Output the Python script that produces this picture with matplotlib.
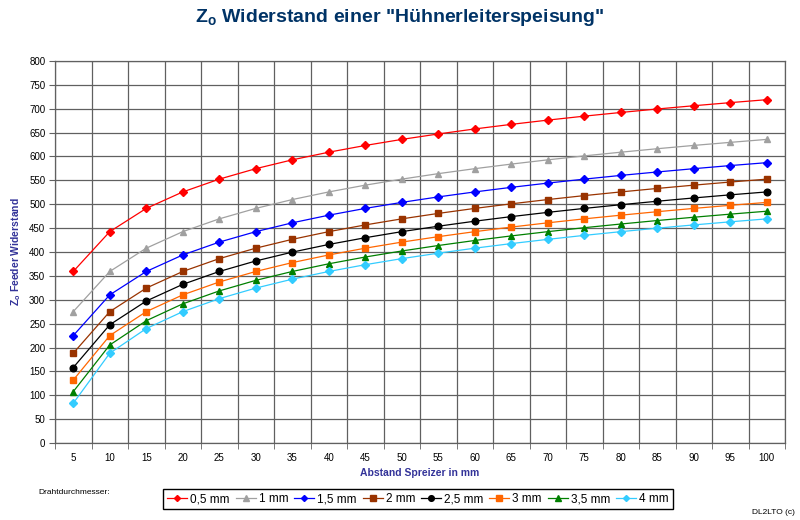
import matplotlib

matplotlib.use("Agg")

import matplotlib.pyplot as plt
import numpy as np

plt.rcParams["font.family"] = ["Liberation Sans", "DejaVu Sans"]

# Abstand der Leiter (Spreizer) in mm
abstand = [5, 10, 15, 20, 25, 30, 35, 40, 45, 50,
           55, 60, 65, 70, 75, 80, 85, 90, 95, 100]

# Z0 in Ohm je Drahtdurchmesser
z_05 = [359.2, 442.6, 491.3, 525.8, 552.6, 574.5, 593.0, 609.0, 623.1, 635.8,
        647.2, 657.7, 667.3, 676.2, 684.5, 692.2, 699.5, 706.3, 712.8, 719.0]
z_10 = [275.1, 359.2, 408.0, 442.6, 469.4, 491.3, 509.8, 525.8, 540.0, 552.6,
        564.1, 574.5, 584.1, 593.0, 601.3, 609.0, 616.3, 623.2, 629.6, 635.8]
z_15 = [224.9, 310.2, 359.2, 393.8, 420.7, 442.6, 461.1, 477.1, 491.3, 503.9,
        515.4, 525.8, 535.4, 544.3, 552.6, 560.4, 567.6, 574.5, 581.0, 587.1]
z_20 = [188.0, 275.1, 324.4, 359.2, 386.1, 408.0, 426.5, 442.6, 456.7, 469.4,
        480.8, 491.3, 500.9, 509.8, 518.1, 525.8, 533.1, 540.0, 546.5, 552.6]
z_25 = [158.0, 247.6, 297.3, 332.2, 359.2, 381.2, 399.7, 415.8, 429.9, 442.6,
        454.0, 464.5, 474.1, 483.0, 491.3, 499.0, 506.3, 513.2, 519.7, 525.8]
z_30 = [131.8, 224.9, 275.1, 310.2, 337.2, 359.2, 377.8, 393.8, 408.0, 420.7,
        432.1, 442.6, 452.2, 461.1, 469.4, 477.1, 484.4, 491.3, 497.8, 503.9]
z_35 = [107.5, 205.3, 256.1, 291.4, 318.5, 340.6, 359.2, 375.3, 389.5, 402.1,
        413.6, 424.1, 433.7, 442.6, 450.9, 458.6, 465.9, 472.8, 479.3, 485.4]
z_40 = [83.2, 188.0, 239.6, 275.1, 302.3, 324.4, 343.1, 359.2, 373.4, 386.1,
        397.5, 408.0, 417.6, 426.5, 434.8, 442.6, 449.9, 456.7, 463.2, 469.4]

labels = ["0,5 mm", "1 mm", "1,5 mm", "2 mm", "2,5 mm", "3 mm", "3,5 mm", "4 mm"]
series = [z_05, z_10, z_15, z_20, z_25, z_30, z_35, z_40]
colours = ["#FF0000", "#A0A0A0", "#0000FF", "#993300",
           "#000000", "#FF6600", "#008000", "#33CCFF"]
markers = ["D", "^", "D", "s", "o", "s", "^", "D"]
msizes = [3.6, 5.0, 3.6, 4.5, 4.8, 4.5, 5.0, 3.6]

AXIS_BLUE = "#333399"
GRID = "#606060"

fig = plt.figure(figsize=(8.0, 5.2), dpi=100)
ax = fig.add_axes([55 / 800, 1 - 443 / 520, 730 / 800, 382 / 520])

xpos = np.arange(len(abstand))
for ys, lab, col, mk, ms in zip(series, labels, colours, markers, msizes):
    ax.plot(xpos, ys, color=col, lw=0.9, marker=mk, markersize=ms,
            markeredgecolor=col, markerfacecolor=col, label=lab)

ax.set_xlim(-0.5, len(abstand) - 0.5)
ax.set_ylim(0, 800)
ax.set_yticks(np.arange(0, 801, 50))
ax.set_xticks(xpos, labels=[str(a) for a in abstand])
ax.set_xticks(np.arange(-0.5, len(abstand), 1.0), minor=True)
ax.tick_params(axis="x", which="major", length=0, pad=7, labelsize=7)
ax.tick_params(axis="x", which="minor", length=4, color=GRID, direction="out")
ax.tick_params(axis="y", length=4, color=GRID, direction="out", labelsize=7, pad=3)
ax.grid(True, axis="y", which="major", color=GRID, lw=0.9)
ax.grid(True, axis="x", which="minor", color=GRID, lw=0.9)
ax.set_axisbelow(True)
for sp in ax.spines.values():
    sp.set_color(GRID)
    sp.set_linewidth(0.9)

ax.set_xlabel("Abstand Spreizer in mm", fontsize=7.5, fontweight="bold",
              color=AXIS_BLUE, labelpad=4)
ax.set_ylabel("Z$_\\mathregular{o}$ Feeder Widerstand", fontsize=7.5, fontweight="bold",
              color=AXIS_BLUE, labelpad=4)

fig.text(0.5, 1 - 17 / 520, "Z$_\\mathregular{o}$ Widerstand einer \"Hühnerleiterspeisung\"",
         ha="center", va="center", fontsize=14, fontweight="bold", color="#003366")

fig.legend(loc="center", bbox_to_anchor=(418 / 800, 1 - 499 / 520), ncol=8,
           fontsize=8.5, frameon=True, fancybox=False, edgecolor="#000000",
           handlelength=1.7, handletextpad=0.25, columnspacing=0.5,
           borderpad=0.35, framealpha=1, markerscale=0.85)

fig.text(38 / 800, 1 - 493 / 520, "Drahtdurchmesser:", fontsize=6,
         ha="left", va="center")
fig.text(795 / 800, 1 - 512 / 520, "DL2LTO (c)", fontsize=6,
         ha="right", va="center")

fig.savefig("out.png", dpi=100)
